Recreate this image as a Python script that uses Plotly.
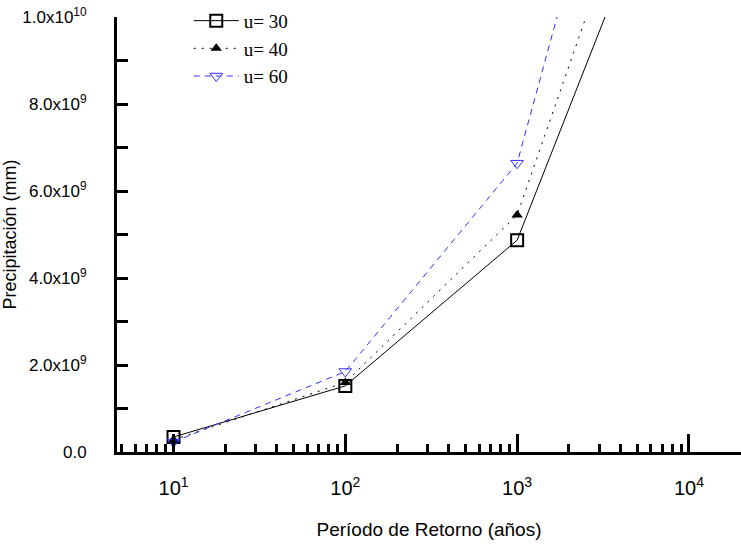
import plotly.graph_objects as go

periods = [10, 100, 1000, 10000]
u30 = [3.45e8, 1.52e9, 4.87e9, 1.49e10]
u40 = [2.8e8, 1.6e9, 5.45e9, 1.68e10]
u60 = [2.3e8, 1.85e9, 6.64e9, 2.11e10]

x_tickvals = [10, 100, 1000, 10000]
x_ticktext = ["10<sup>1</sup>", "10<sup>2</sup>", "10<sup>3</sup>", "10<sup>4</sup>"]
y_tickvals = [i * 1e9 for i in range(11)]
y_ticktext = ["0.0", "", "2.0x10<sup>9</sup>", "", "4.0x10<sup>9</sup>", "",
              "6.0x10<sup>9</sup>", "", "8.0x10<sup>9</sup>", "", "1.0x10<sup>10</sup>"]

minor_vals = [m * 10 ** d for d in range(0, 5) for m in range(2, 10)]

fig = go.Figure()
fig.add_trace(go.Scatter(x=periods, y=u30, name="u= 30", mode="lines+markers",
                         line=dict(color="black", width=1),
                         marker=dict(symbol="square-open", size=12, color="black", line=dict(width=2))))
fig.add_trace(go.Scatter(x=periods, y=u40, name="u= 40", mode="lines+markers",
                         line=dict(color="black", width=1, dash="2px,6px"),
                         marker=dict(symbol="triangle-up", size=10, color="black")))
fig.add_trace(go.Scatter(x=periods, y=u60, name="u= 60", mode="lines+markers",
                         line=dict(color="#3030ff", width=1, dash="6px,5px"),
                         marker=dict(symbol="triangle-down-open", size=11, color="#3030ff", line=dict(width=1))))

fig.update_layout(
    width=741, height=544,
    margin=dict(l=117, r=0, t=17, b=92),
    plot_bgcolor="white", paper_bgcolor="white",
    font=dict(family="Liberation Sans, Arial", size=17, color="black"),
    showlegend=True,
    legend=dict(x=0.115, y=1.035, xanchor="left", yanchor="top",
                bgcolor="rgba(0,0,0,0)",
                font=dict(family="Liberation Serif, Times New Roman", size=19, color="black"),
                tracegroupgap=0, itemwidth=45),
)
fig.update_xaxes(
    type="log", range=[0.671, 4.303],
    tickvals=x_tickvals, ticktext=x_ticktext,
    ticks="inside", ticklen=18, tickwidth=3, tickcolor="black",
    minor=dict(tickvals=minor_vals, ticks="inside", ticklen=8, tickwidth=3, tickcolor="black", showgrid=False),
    showline=True, linewidth=3, linecolor="black",
    showgrid=False, zeroline=False,
    tickfont=dict(size=20),
    ticklabelstandoff=16,
    title=dict(text="Período de Retorno (años)", font=dict(size=19), standoff=25),
)
fig.update_yaxes(
    range=[0, 1e10],
    tickvals=y_tickvals, ticktext=y_ticktext,
    ticks="inside", ticklen=11, tickwidth=3, tickcolor="black",
    showline=True, linewidth=3, linecolor="black",
    showgrid=False, zeroline=False,
    tickfont=dict(size=17),
    ticklabelstandoff=24,
    title=dict(text="Precipitación (mm)", font=dict(size=18), standoff=5),
)

fig.write_html("out.html")
